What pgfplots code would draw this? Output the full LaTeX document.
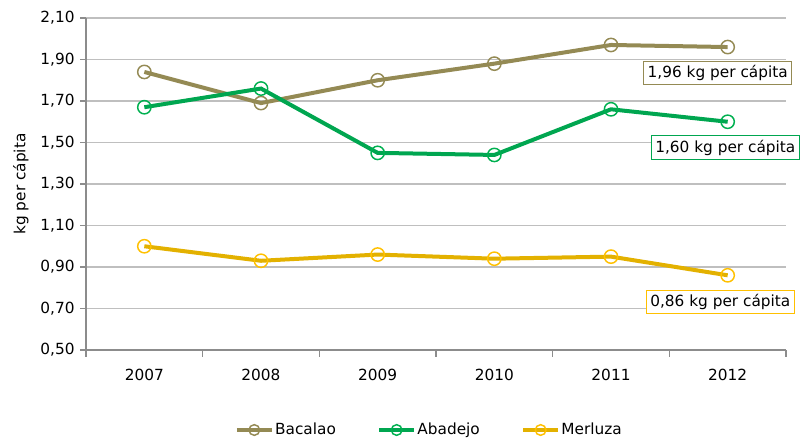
\documentclass[border=0pt]{standalone}
\usepackage{pgfplots}
\pgfplotsset{compat=1.18}
\usepackage{fontspec}
\setmainfont{DejaVu Sans}
\definecolor{bac}{HTML}{948A54}
\definecolor{aba}{HTML}{00A650}
\definecolor{abam}{HTML}{00B050}
\definecolor{mer}{HTML}{E3B100}
\definecolor{merm}{HTML}{FFC000}
\definecolor{gridc}{HTML}{BFBFBF}
\definecolor{axc}{HTML}{8C8C8C}
\begin{document}
\fontsize{11.5}{13.5}\selectfont
\begin{tikzpicture}
\useasboundingbox (-64.5pt,-66.75pt) rectangle (540pt,262.5pt);
\begin{axis}[
  scale only axis,
  width=525pt, height=249pt,
  xmin=-0.5, xmax=5.5,
  ymin=0.5, ymax=2.1,
  axis x line*=bottom, axis y line*=left,
  axis line style={draw=axc, line width=0.8pt},
  xtick={0,...,5},
  xticklabels={2007,2008,2009,2010,2011,2012},
  minor xtick={-0.5,0.5,...,5.5},
  major x tick style={draw=none},
  minor x tick style={draw=axc, line width=0.8pt},
  minor tick length=5pt,
  major tick length=4.5pt,
  ytick={0.5,0.7,...,2.15},
  ytick style={draw=axc, line width=0.8pt},
  tick align=outside,
  ymajorgrids,
  grid style={draw=gridc, line width=0.8pt},
  yticklabel style={/pgf/number format/.cd, fixed, fixed zerofill, precision=2, use comma, assume math mode=true},
  xticklabel style={/pgf/number format/assume math mode=true, yshift=-6pt},
  tick label style={font=\fontsize{11.5}{13.5}\selectfont, text=black},
  ylabel={kg per cápita},
  ylabel style={font=\fontsize{11.5}{13.5}\selectfont, yshift=1pt},
  clip=false,
  legend columns=3,
  legend style={at={(0.49,-0.241)}, anchor=center, draw=none, fill=none,
    font=\fontsize{11.5}{13.5}\selectfont,
    nodes={inner xsep=1pt},
    /tikz/every even column/.append style={column sep=30pt}},
  legend image code/.code={\draw[#1, mark repeat=2, mark phase=2, mark size=4pt] plot coordinates {(0cm,0cm)(0.46cm,0cm)(0.92cm,0cm)};},
]
\addplot[color=bac, line width=3pt, mark=o, mark size=5pt, mark options={line width=1.1pt, draw=bac}] coordinates {(0,1.84)(1,1.69)(2,1.80)(3,1.88)(4,1.97)(5,1.96)};
\addlegendentry{Bacalao}
\addplot[color=aba, line width=3pt, mark=o, mark size=5pt, mark options={line width=1.1pt, draw=abam}] coordinates {(0,1.67)(1,1.76)(2,1.45)(3,1.44)(4,1.66)(5,1.60)};
\addlegendentry{Abadejo}
\addplot[color=mer, line width=3pt, mark=o, mark size=5pt, mark options={line width=1.1pt, draw=merm}] coordinates {(0,1.00)(1,0.93)(2,0.96)(3,0.94)(4,0.95)(5,0.86)};
\addlegendentry{Merluza}
\node[draw=bac, line width=0.9pt, fill=white, inner sep=3pt, font=\fontsize{11.5}{13.5}\selectfont] at (axis cs:4.915,1.835) {1,96 kg per cápita};
\node[draw=aba, line width=0.9pt, fill=white, inner sep=3pt, font=\fontsize{11.5}{13.5}\selectfont] at (axis cs:4.98,1.476) {1,60 kg per cápita};
\node[draw=merm, line width=0.9pt, fill=white, inner sep=3pt, font=\fontsize{11.5}{13.5}\selectfont] at (axis cs:4.937,0.731) {0,86 kg per cápita};
\end{axis}
\end{tikzpicture}
\end{document}
